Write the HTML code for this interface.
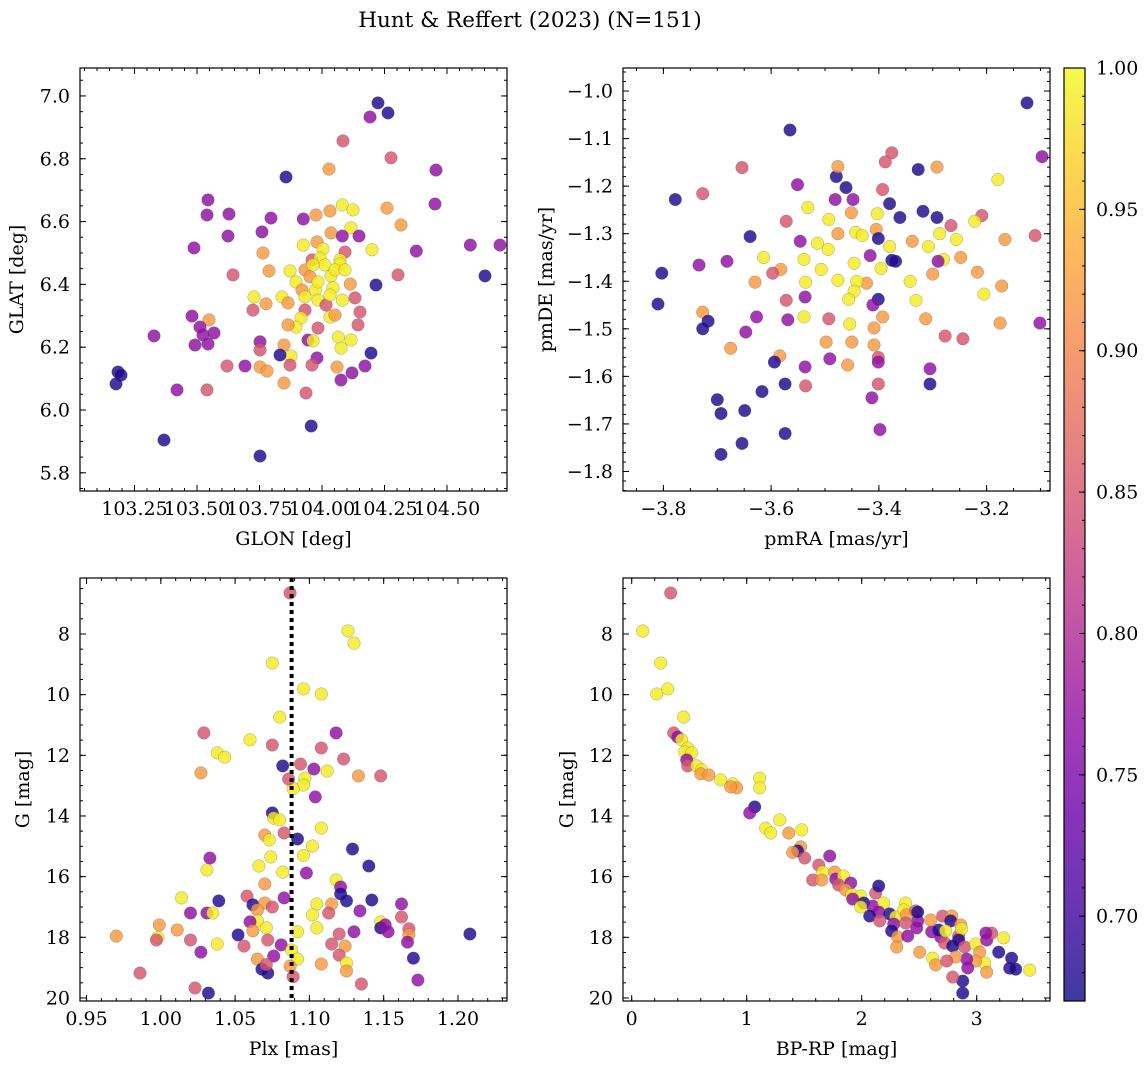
<!DOCTYPE html>
<html><head><meta charset="utf-8">
<style>
html,body{margin:0;padding:0;background:#fff;}
svg{display:block;font-family:"DejaVu Serif","Liberation Serif",serif;}
</style></head>
<body>
<svg id="fig" width="1148" height="1068" viewBox="0 0 1148 1068" xmlns="http://www.w3.org/2000/svg">
<defs>
<linearGradient id="plasma" x1="0" y1="1" x2="0" y2="0">
<stop offset="0" stop-color="#0d0887"/><stop offset="0.1" stop-color="#41049d"/><stop offset="0.2" stop-color="#6a00a8"/><stop offset="0.3" stop-color="#8f0da4"/><stop offset="0.4" stop-color="#b12a90"/><stop offset="0.5" stop-color="#cc4778"/><stop offset="0.6" stop-color="#e16462"/><stop offset="0.7" stop-color="#f2844b"/><stop offset="0.8" stop-color="#fca636"/><stop offset="0.9" stop-color="#fcce25"/><stop offset="1" stop-color="#f0f921"/>
</linearGradient>
</defs>
<text x="530" y="27" font-size="21.5" text-anchor="middle">Hunt &amp; Reffert (2023) (N=151)</text>
</svg>
<script>
const D=0.68,P=0.77,K=0.85,O=0.92,Y=0.99;
// Top-left: GLON / GLAT
const tlGlon=[104.224,104.264,104.192,104.084,104.276,104.456,103.856,104.028,103.544,103.628,104.452,103.796,104.260,104.081,104.032,104.124,103.540,103.925,103.976,104.316,104.116,103.760,103.624,104.148,103.488,104.377,104.593,104.036,103.980,103.925,103.764,104.081,104.004,104.092,104.072,103.960,103.932,103.992,104.200,103.644,103.788,103.872,104.036,104.304,103.952,103.896,104.072,103.920,103.973,104.044,104.113,104.216,104.081,103.984,103.932,104.016,104.652,104.712,103.728,103.840,103.776,103.864,103.724,103.932,103.916,104.032,103.896,103.984,104.052,104.152,103.548,103.480,103.512,103.864,104.132,103.944,103.752,104.065,104.144,103.524,103.568,103.752,104.116,103.544,103.848,103.492,103.980,104.076,103.876,103.620,103.872,103.692,104.172,103.960,104.060,103.752,103.328,103.832,104.196,103.964,103.780,103.184,103.196,103.176,103.420,103.540,103.848,103.936,104.076,104.120,103.368,103.957,103.752,104.012,104.052,103.984,104.032,103.964,104.092];
const tlGlat=[6.978,6.946,6.933,6.857,6.803,6.764,6.742,6.767,6.669,6.624,6.656,6.611,6.643,6.653,6.634,6.637,6.621,6.608,6.621,6.589,6.580,6.567,6.554,6.554,6.516,6.506,6.525,6.564,6.535,6.525,6.500,6.554,6.513,6.503,6.478,6.478,6.446,6.484,6.510,6.430,6.443,6.443,6.427,6.430,6.424,6.408,6.465,6.382,6.382,6.389,6.401,6.398,6.350,6.350,6.360,6.334,6.427,6.525,6.360,6.360,6.338,6.341,6.318,6.318,6.293,6.296,6.264,6.261,6.302,6.312,6.287,6.299,6.264,6.271,6.357,6.223,6.217,6.232,6.271,6.239,6.245,6.191,6.223,6.210,6.207,6.207,6.166,6.197,6.172,6.140,6.143,6.140,6.140,6.143,6.137,6.137,6.236,6.175,6.181,6.220,6.124,6.121,6.111,6.083,6.064,6.064,6.086,6.054,6.095,6.118,5.904,5.949,5.853,6.462,6.446,6.408,6.366,6.462,6.446];
const tlProb=[D,D,P,K,K,P,D,O,P,P,P,P,O,Y,O,Y,P,P,O,O,Y,P,P,P,P,P,P,O,O,Y,O,P,Y,K,Y,K,O,Y,Y,K,O,Y,Y,K,O,Y,Y,O,Y,Y,O,D,Y,Y,Y,K,D,P,Y,Y,O,O,K,K,Y,Y,Y,K,O,K,O,P,P,O,K,P,P,Y,K,P,P,K,Y,P,O,P,P,Y,Y,K,K,P,P,K,O,O,P,D,D,Y,O,D,D,D,P,K,O,K,P,P,D,D,D,Y,Y,Y,Y,Y,Y];
// Top-right: pmRA / pmDE
const trPmra=[-3.125,-3.097,-3.565,-3.778,-3.727,-3.654,-3.551,-3.479,-3.476,-3.461,-3.481,-3.376,-3.388,-3.327,-3.292,-3.393,-3.179,-3.380,-3.448,-3.403,-3.451,-3.361,-3.318,-3.292,-3.266,-3.209,-3.110,-3.443,-3.405,-3.532,-3.572,-3.493,-3.476,-3.514,-3.494,-3.431,-3.401,-3.380,-3.338,-3.308,-3.287,-3.256,-3.222,-3.166,-3.639,-3.614,-3.546,-3.539,-3.582,-3.597,-3.507,-3.446,-3.396,-3.416,-3.376,-3.369,-3.280,-3.248,-3.217,-3.172,-3.205,-3.290,-3.300,-3.630,-3.682,-3.734,-3.803,-3.536,-3.476,-3.423,-3.342,-3.441,-3.331,-3.313,-3.446,-3.456,-3.401,-3.393,-3.411,-3.537,-3.572,-3.810,-3.727,-3.717,-3.727,-3.627,-3.539,-3.569,-3.493,-3.454,-3.409,-3.101,-3.175,-3.277,-3.244,-3.647,-3.675,-3.584,-3.498,-3.450,-3.409,-3.491,-3.458,-3.594,-3.537,-3.401,-3.401,-3.401,-3.574,-3.536,-3.413,-3.305,-3.617,-3.700,-3.693,-3.649,-3.398,-3.574,-3.654,-3.693,-3.305];
const trPmde=[-1.025,-1.138,-1.082,-1.228,-1.216,-1.161,-1.197,-1.180,-1.159,-1.203,-1.228,-1.130,-1.149,-1.165,-1.160,-1.207,-1.186,-1.237,-1.228,-1.258,-1.256,-1.266,-1.253,-1.266,-1.283,-1.262,-1.304,-1.297,-1.291,-1.245,-1.274,-1.270,-1.300,-1.320,-1.333,-1.304,-1.310,-1.327,-1.316,-1.327,-1.300,-1.312,-1.274,-1.312,-1.306,-1.350,-1.316,-1.354,-1.375,-1.383,-1.375,-1.362,-1.373,-1.346,-1.356,-1.358,-1.354,-1.350,-1.381,-1.410,-1.427,-1.358,-1.385,-1.402,-1.358,-1.366,-1.383,-1.402,-1.398,-1.404,-1.400,-1.400,-1.440,-1.479,-1.421,-1.438,-1.438,-1.475,-1.450,-1.433,-1.440,-1.448,-1.465,-1.484,-1.500,-1.475,-1.475,-1.481,-1.479,-1.490,-1.498,-1.488,-1.488,-1.515,-1.521,-1.507,-1.541,-1.557,-1.528,-1.528,-1.534,-1.563,-1.576,-1.570,-1.580,-1.560,-1.570,-1.616,-1.616,-1.620,-1.645,-1.616,-1.632,-1.649,-1.678,-1.672,-1.712,-1.720,-1.741,-1.764,-1.584];
const trProb=[D,P,D,D,K,K,P,D,O,D,P,K,K,D,O,K,Y,D,P,Y,O,D,D,D,K,K,K,Y,O,Y,K,Y,O,Y,Y,Y,D,Y,O,Y,Y,Y,Y,O,D,Y,P,Y,O,K,Y,Y,Y,P,D,D,Y,O,O,O,Y,P,O,O,P,P,D,Y,Y,O,Y,Y,Y,O,Y,Y,D,O,P,P,K,D,O,D,D,P,Y,P,K,Y,O,P,O,K,K,P,O,O,O,O,O,P,O,D,P,K,P,K,D,K,P,D,D,D,D,D,P,D,D,D,P];
// Bottom-left: Plx / G
const blPlx=[1.087,1.126,1.130,1.075,1.096,1.108,1.080,1.029,1.118,1.060,1.075,1.108,1.038,1.043,1.123,1.082,1.094,1.103,1.027,1.112,1.148,1.133,1.097,1.096,1.089,1.086,1.104,1.075,1.076,1.080,1.083,1.108,1.070,1.073,1.092,1.102,1.129,1.096,1.033,1.074,1.066,1.031,1.082,1.098,1.118,1.140,1.058,1.070,1.121,1.121,1.014,1.039,1.062,1.070,1.083,1.105,1.115,1.125,1.142,1.162,1.065,1.031,1.035,1.020,1.075,1.102,1.065,1.113,1.134,1.148,1.162,1.060,0.999,1.052,1.062,1.071,1.092,1.105,1.120,1.130,1.148,1.153,1.151,1.167,1.167,1.208,0.970,0.998,1.011,0.997,1.020,1.072,1.081,1.038,1.056,1.115,1.124,1.166,1.027,1.088,1.065,1.076,1.092,1.120,1.125,1.170,1.087,1.108,1.068,1.072,1.125,0.986,1.173,1.023,1.032,1.135,1.089,1.071];
const blG=[6.65,7.90,8.30,8.96,9.81,9.98,10.74,11.26,11.26,11.49,11.66,11.76,11.92,12.06,12.12,12.35,12.29,12.45,12.58,12.52,12.68,12.68,12.75,12.98,13.10,12.78,13.37,13.90,14.07,14.13,14.56,14.40,14.63,14.79,14.76,14.99,15.09,15.30,15.39,15.35,15.65,15.78,15.85,15.88,16.11,15.65,16.64,16.24,16.34,16.57,16.70,16.80,16.93,16.87,16.70,16.90,16.90,16.80,16.77,16.90,17.10,17.20,17.20,17.20,17.00,17.26,17.46,17.20,17.13,17.50,17.33,17.49,17.59,17.92,17.79,17.69,17.82,17.69,17.89,17.82,17.69,17.82,17.59,17.72,17.92,17.89,17.96,18.00,17.76,18.09,18.09,18.09,18.25,18.22,18.29,18.22,18.29,18.16,18.49,18.42,18.72,18.62,18.72,18.59,18.85,18.69,18.95,18.88,19.05,19.18,19.11,19.18,19.41,19.67,19.84,19.54,19.30,18.90];
const blProb=[K,Y,Y,Y,Y,Y,Y,K,P,Y,K,K,Y,Y,K,D,K,P,O,Y,K,O,Y,Y,Y,K,P,D,Y,Y,K,Y,O,Y,D,Y,D,Y,P,Y,Y,Y,Y,P,Y,D,K,O,P,D,Y,D,D,O,P,Y,O,D,D,P,O,P,Y,P,K,Y,Y,K,P,Y,K,P,O,D,O,Y,Y,Y,K,P,D,P,P,K,O,D,O,Y,O,K,K,K,P,Y,K,K,O,P,P,Y,O,P,Y,K,Y,D,O,O,D,D,O,K,P,K,D,K,K,K];
const plxRef=[1.088];
// Bottom-right: BP-RP / G
const brColor=[0.339,0.096,0.252,0.313,0.217,0.452,0.365,0.400,0.435,0.487,0.461,0.522,0.478,0.487,0.565,0.609,0.600,0.670,0.774,0.878,0.913,0.861,1.113,1.113,1.070,1.026,1.165,1.209,1.287,1.365,1.478,1.470,1.443,1.400,1.504,1.626,1.722,1.661,1.574,1.652,1.765,1.774,1.843,1.800,1.904,1.861,1.913,1.991,1.922,2.017,2.122,2.148,2.096,1.991,2.191,2.148,2.243,2.296,2.070,2.157,2.278,2.383,2.365,2.390,2.470,2.487,2.383,2.260,2.313,2.304,2.400,2.478,2.609,2.600,2.487,2.704,2.783,2.774,2.861,2.843,2.870,2.687,2.722,2.843,2.670,2.730,2.791,2.896,2.991,3.026,3.087,3.130,3.080,3.235,3.191,3.304,3.287,3.339,3.461,3.070,3.087,2.991,2.913,2.817,2.922,2.878,2.878,2.791,2.617,2.504,2.643,2.739];
const brG=[6.65,7.90,8.96,9.81,9.98,10.74,11.26,11.40,11.49,11.76,11.89,11.92,12.15,12.35,12.35,12.48,12.61,12.65,12.81,12.94,13.07,13.04,12.75,13.07,13.70,13.90,14.40,14.56,14.13,14.56,14.46,15.02,15.15,15.20,15.39,15.62,15.32,15.85,16.11,16.11,15.85,16.08,15.98,16.28,16.21,16.44,16.60,16.64,16.74,16.87,16.54,16.31,16.97,17.00,16.87,17.17,17.23,17.33,17.30,17.46,17.56,16.87,17.10,17.26,17.13,17.46,17.53,17.79,17.99,18.32,17.96,17.69,17.82,17.43,17.17,17.30,17.30,17.46,17.59,17.96,17.72,17.99,18.19,18.09,17.76,17.79,18.29,18.32,18.22,18.49,18.09,17.86,17.86,18.02,18.49,18.69,19.02,19.05,19.08,18.85,19.15,18.78,18.72,18.65,19.01,19.44,19.84,19.31,18.69,18.49,18.91,18.78];
const brProb=[K,Y,Y,Y,Y,Y,K,P,Y,Y,Y,Y,P,K,Y,Y,O,O,Y,Y,O,O,Y,Y,D,P,Y,Y,Y,O,Y,O,D,O,K,K,P,Y,K,O,O,P,Y,K,P,O,Y,Y,P,D,K,D,P,Y,Y,P,D,Y,D,K,P,Y,Y,O,K,P,K,D,O,O,P,P,P,O,D,K,O,D,O,K,Y,P,K,D,D,Y,D,K,Y,O,P,K,P,Y,D,D,D,D,Y,Y,O,O,P,O,P,D,D,K,Y,O,O,K];
// tick arrays
const tlXTicks=[103.25,103.5,103.75,104.0,104.25,104.5];
const tlYTicks=[5.8,6.0,6.2,6.4,6.6,6.8,7.0];
const trXTicks=[-3.8,-3.6,-3.4,-3.2];
const trYTicks=[-1.8,-1.7,-1.6,-1.5,-1.4,-1.3,-1.2,-1.1,-1.0];
const blXTicks=[0.95,1.0,1.05,1.1,1.15,1.2];
const gTicks=[8,10,12,14,16,18,20];
const brXTicks=[0,1,2,3];
const cbTicks=[0.70,0.75,0.80,0.85,0.90,0.95,1.00];
const vmin=0.67,vmax=1.0;

const FS=19;
const NS='http://www.w3.org/2000/svg';
const svg=document.getElementById('fig');
function mk(tag,attrs,parent){const e=document.createElementNS(NS,tag);for(const k in attrs)e.setAttribute(k,attrs[k]);(parent||svg).appendChild(e);return e;}
const stops=[[0,13,8,135],[0.1,65,4,157],[0.2,106,0,168],[0.3,143,13,164],[0.4,177,42,144],[0.5,204,71,120],[0.6,225,100,98],[0.7,242,132,75],[0.8,252,166,54],[0.9,252,206,37],[1,240,249,33]];
function plasma(t){t=Math.max(0,Math.min(1,t));for(let i=1;i<stops.length;i++){if(t<=stops[i][0]){const a=stops[i-1],b=stops[i],f=(t-a[0])/(b[0]-a[0]);return 'rgb('+[1,2,3].map(j=>Math.round(a[j]+f*(b[j]-a[j]))).join(',')+')';}}return 'rgb(240,249,33)';}
function fmt(v,d){return (v<0?'\u2212':'')+Math.abs(v).toFixed(d);}

function panel(opt){
  const g=mk('g',{});
  
  
  const L=opt.L,R=opt.R,T=opt.T,B=opt.B;
  const sx=v=>L+(v-opt.xd[0])/(opt.xd[1]-opt.xd[0])*(R-L);
  const sy=opt.yinv?(v=>T+(v-opt.yd[0])/(opt.yd[1]-opt.yd[0])*(B-T)):(v=>B-(v-opt.yd[0])/(opt.yd[1]-opt.yd[0])*(B-T));
  const pts=mk('g',{},g);
  
  
  for(let i=0;i<opt.xs.length;i++){
    const c=mk('circle',{cx:sx(opt.xs[i]).toFixed(1),cy:sy(opt.ys[i]).toFixed(1),r:6.3,fill:plasma((opt.ps[i]-vmin)/(vmax-vmin)),'fill-opacity':0.82,stroke:'#555','stroke-opacity':0.5,'stroke-width':0.5},pts);
    
    
  }
  const fr=mk('rect',{x:L,y:T,width:R-L,height:B-T,fill:'none',stroke:'#000','stroke-width':1.2},g);
  
  
  if(opt.vline){
    for(const v of opt.vline){
      const xv=sx(v);
      const dl=mk('g',{fill:'#000'},g);
      
      
      for(let y=T;y<B;y+=8){mk('rect',{x:(xv-2).toFixed(1),y:y,width:4,height:Math.min(4,B-y)},dl);}
    }
  }
  const tk=mk('g',{stroke:'#000','stroke-width':1},g);
  const eps=1e-6;
  for(let v=Math.ceil(opt.xd[0]/opt.xm-eps)*opt.xm;v<=opt.xd[1]+eps;v+=opt.xm){const x=sx(v);mk('line',{x1:x,x2:x,y1:B,y2:B-3},tk);mk('line',{x1:x,x2:x,y1:T,y2:T+3},tk);}
  const ylo=Math.min(opt.yd[0],opt.yd[1]),yhi=Math.max(opt.yd[0],opt.yd[1]);
  for(let v=Math.ceil(ylo/opt.ym-eps)*opt.ym;v<=yhi+eps;v+=opt.ym){const y=sy(v);mk('line',{x1:L,x2:L+3,y1:y,y2:y},tk);mk('line',{x1:R,x2:R-3,y1:y,y2:y},tk);}
  for(const v of opt.xt){const x=sx(v);mk('line',{x1:x,x2:x,y1:B,y2:B-6},tk);mk('line',{x1:x,x2:x,y1:T,y2:T+6},tk);
    const t=mk('text',{x:x,y:B+24,'font-size':FS,'text-anchor':'middle'},g);t.textContent=fmt(v,opt.xdec);
    }
  for(const v of opt.yt){const y=sy(v);mk('line',{x1:L,x2:L+6,y1:y,y2:y},tk);mk('line',{x1:R,x2:R-6,y1:y,y2:y},tk);
    const t=mk('text',{x:L-10,y:y+6.5,'font-size':FS,'text-anchor':'end'},g);t.textContent=fmt(v,opt.ydec);
    }
  const xl=mk('text',{x:(L+R)/2,y:B+54,'font-size':FS,'text-anchor':'middle'},g);xl.textContent=opt.xlab;
  
  const yx=opt.ylx, yc=(T+B)/2;
  const yl=mk('text',{x:yx,y:yc,'font-size':FS,'text-anchor':'middle',transform:'rotate(-90 '+yx+' '+yc+')'},g);yl.textContent=opt.ylab;
  
}
panel({name:'glon-glat-panel',L:80,R:507,T:68,B:491,xd:[103.032,104.74],yd:[5.742,7.089],xs:tlGlon,ys:tlGlat,ps:tlProb,xt:tlXTicks,yt:tlYTicks,xm:0.05,ym:0.05,xdec:2,ydec:1,xlab:'GLON [deg]',ylab:'GLAT [deg]',ylx:23});
panel({name:'proper-motion-panel',L:623,R:1050,T:68,B:491,xd:[-3.875,-3.0823],yd:[-1.841,-0.9516],xs:trPmra,ys:trPmde,ps:trProb,xt:trXTicks,yt:trYTicks,xm:0.05,ym:0.02,xdec:1,ydec:1,xlab:'pmRA [mas/yr]',ylab:'pmDE [mas/yr]',ylx:552});
panel({name:'parallax-mag-panel',L:80,R:507,T:578,B:1001,xd:[0.9456,1.233],yd:[6.154,20.1],yinv:true,xs:blPlx,ys:blG,ps:blProb,xt:blXTicks,yt:gTicks,xm:0.01,ym:0.5,xdec:2,ydec:0,xlab:'Plx [mas]',ylab:'G [mag]',ylx:29,vline:plxRef});
panel({name:'cmd-panel',L:623,R:1050,T:578,B:1001,xd:[-0.0757,3.6375],yd:[6.154,20.1],yinv:true,xs:brColor,ys:brG,ps:brProb,xt:brXTicks,yt:gTicks,xm:0.2,ym:0.5,xdec:0,ydec:0,xlab:'BP-RP [mag]',ylab:'G [mag]',ylx:573});
// colorbar
const cb=mk('g',{});


const cL=1064,cR=1085,cT=68,cB=1001;
const cy=v=>cB-(v-vmin)/(vmax-vmin)*(cB-cT);
mk('rect',{x:cL,y:cT,width:cR-cL,height:cB-cT,fill:'url(#plasma)','fill-opacity':0.8},cb);
mk('rect',{x:cL,y:cT,width:cR-cL,height:cB-cT,fill:'none',stroke:'#000','stroke-width':1.2},cb);
for(let k=68;k<=100;k++){const y=cy(k/100);mk('line',{x1:cR,x2:cR-3,y1:y,y2:y,stroke:'#000'},cb);}
for(const v of cbTicks){const y=cy(v);mk('line',{x1:cR,x2:cR-6,y1:y,y2:y,stroke:'#000'},cb);
  const t=mk('text',{x:cR+11,y:y+6.5,'font-size':FS},cb);t.textContent=v.toFixed(2);
  }
</script>
</body></html>
